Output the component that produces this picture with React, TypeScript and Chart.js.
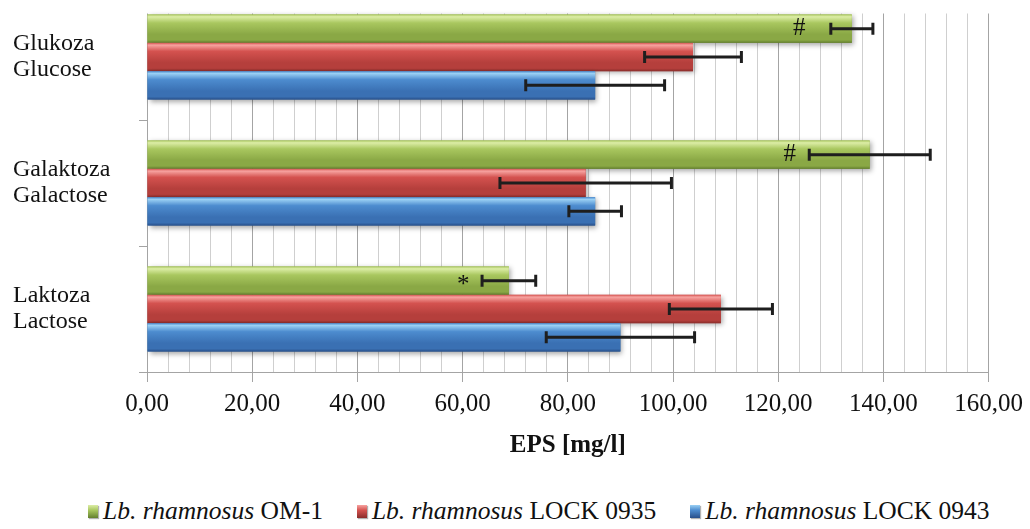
import React, { useEffect, useRef } from 'react';
import { Chart, registerables } from 'chart.js';

Chart.register(...registerables);

// ---- data ----
const categories = [
  ['Glukoza', 'Glucose'],
  ['Galaktoza', 'Galactose'],
  ['Laktoza', 'Lactose'],
];
const seriesSpecies = 'Lb. rhamnosus';
const seriesStrains = ['OM-1', 'LOCK 0935', 'LOCK 0943'];
const om1 = [134.0, 137.4, 68.8];
const lock0935 = [103.8, 83.4, 109.1];
const lock0943 = [85.2, 85.2, 90.0];
const om1Err = [4.0, 11.5, 5.1];
const lock0935Err = [9.2, 16.3, 9.8];
const lock0943Err = [13.2, 5.0, 14.1];
const om1Marks = ['#', '#', '*'];
const om1MarkAt = [124.0, 122.2, 60.1];
const xMin = 0;
const xMax = 160;
const xMajorStep = 20;
const xMinorStep = 4;
const axisTitle = 'EPS [mg/l]';

// ---- styles ----
const FONT = "'Liberation Serif'";
const palette = [
  { light: '#dceda6', mid: '#a9c75f', lower: '#8aa845', dark: '#637f2e' },
  { light: '#f7a3a0', mid: '#d4524f', lower: '#b53f3c', dark: '#8a2d2b' },
  { light: '#9ad0f4', mid: '#4d8ccf', lower: '#3a70b3', dark: '#284f8a' },
];
const OFFSET = 20;

const fmt = (v: number) => v.toFixed(2).replace('.', ',');

export default function App() {
  const ref = useRef<HTMLCanvasElement | null>(null);

  useEffect(() => {
    if (!ref.current) return;
    const series = [om1, lock0935, lock0943];
    const errors = [om1Err, lock0935Err, lock0943Err];

    const styler = {
      id: 'styler',
      beforeDatasetsDraw(chart: any) {
        const { ctx, chartArea } = chart;
        ctx.save();
        ctx.fillStyle = '#ffffff';
        ctx.fillRect(chartArea.left - 12, 0, chartArea.right - chartArea.left + 30, OFFSET + 14 - 0.5);
        ctx.restore();
      },
      afterDatasetsDraw(chart: any) {
        const ctx = chart.ctx;
        const xs = chart.scales.x;
        chart.data.datasets.forEach((ds: any, di: number) => {
          const meta = chart.getDatasetMeta(di);
          const c = palette[di];
          meta.data.forEach((el: any) => {
            const p = el.getProps(['x', 'y', 'base', 'height'], true);
            const left = Math.min(p.base, p.x);
            const right = Math.max(p.base, p.x);
            const top = p.y - p.height / 2;
            const h = p.height;
            const g = ctx.createLinearGradient(0, top, 0, top + h);
            g.addColorStop(0, c.mid);
            g.addColorStop(0.08, c.light);
            g.addColorStop(0.3, c.mid);
            g.addColorStop(0.7, c.lower);
            g.addColorStop(0.9, c.lower);
            g.addColorStop(1, c.dark);
            ctx.save();
            ctx.shadowColor = 'rgba(0,0,0,0.35)';
            ctx.shadowBlur = 5;
            ctx.shadowOffsetX = 2;
            ctx.shadowOffsetY = 2;
            ctx.fillStyle = g;
            ctx.fillRect(left, top, right - left, h);
            ctx.restore();
          });
        });
        ctx.save();
        ctx.strokeStyle = '#1e1e1e';
        ctx.lineWidth = 3;
        ctx.lineCap = 'butt';
        chart.data.datasets.forEach((ds: any, di: number) => {
          const meta = chart.getDatasetMeta(di);
          meta.data.forEach((el: any, i: number) => {
            const v = series[di][i];
            const e = errors[di][i];
            const lo = xs.getPixelForValue(v - e);
            const hi = xs.getPixelForValue(v + e);
            const y = el.y;
            ctx.beginPath();
            ctx.moveTo(lo, y);
            ctx.lineTo(hi, y);
            ctx.moveTo(lo, y - 6);
            ctx.lineTo(lo, y + 6);
            ctx.moveTo(hi, y - 6);
            ctx.lineTo(hi, y + 6);
            ctx.stroke();
          });
        });
        ctx.restore();
        const meta0 = chart.getDatasetMeta(0);
        ctx.save();
        ctx.fillStyle = '#111';
        ctx.font = `25px ${FONT}`;
        ctx.textAlign = 'center';
        ctx.textBaseline = 'middle';
        meta0.data.forEach((el: any, i: number) => {
          const m = om1Marks[i];
          if (!m) return;
          const x = xs.getPixelForValue(om1MarkAt[i]);
          ctx.fillText(m, x, el.y + (m === '*' ? 5 : 0));
        });
        ctx.restore();
      },
    };

    const chart = new Chart(ref.current, {
      type: 'bar',
      data: {
        labels: categories as any,
        datasets: series.map((d, i) => ({
          label: `${seriesSpecies} ${seriesStrains[i]}`,
          data: d,
          backgroundColor: palette[i].mid,
          borderWidth: 0,
          barPercentage: 1,
          categoryPercentage: 0.675,
        })),
      },
      options: {
        indexAxis: 'y',
        responsive: false,
        maintainAspectRatio: false,
        animation: false,
        font: { family: FONT },
        layout: { padding: { left: 13, right: 39, top: OFFSET - 6, bottom: 0 } },
        plugins: {
          legend: { display: false },
          tooltip: { enabled: false },
        },
        scales: {
          x: {
            type: 'linear',
            min: xMin,
            max: xMax,
            afterFit: (s: any) => {
              s.height = 108;
            },
            ticks: {
              stepSize: xMinorStep,
              autoSkip: false,
              maxRotation: 0,
              padding: 7,
              color: '#111',
              font: { family: FONT, size: 25 },
              callback: (v: any) => (Number(v) % xMajorStep === 0 ? fmt(Number(v)) : ''),
            },
            grid: {
              tickLength: 10,
              lineWidth: 1,
              color: (c: any) =>
                c.tick && c.tick.value % xMajorStep === 0 ? '#a4a4a4' : '#cfcfcf',
              tickColor: (c: any) =>
                c.tick && c.tick.value % xMajorStep === 0 ? '#a4a4a4' : 'rgba(0,0,0,0)',
            },
            border: { color: '#a4a4a4', width: 1 },
            title: {
              display: true,
              text: axisTitle,
              color: '#111',
              font: { family: FONT, size: 25, weight: 'bold' },
              padding: { top: 0, bottom: 19 },
            },
          },
          y: {
            type: 'category',
            afterFit: (s: any) => {
              s.width = 134;
              s.paddingTop = 0;
              s.paddingBottom = 0;
            },
            ticks: {
              crossAlign: 'far',
              color: '#111',
              font: { family: FONT, size: 24, lineHeight: 1.1 },
            },
            grid: {
              offset: true,
              drawOnChartArea: false,
              tickLength: 8,
              color: '#a4a4a4',
            },
            border: { color: '#a4a4a4', width: 1 },
          },
        },
      } as any,
      plugins: [styler],
    });

    return () => chart.destroy();
  }, []);

  const legendSwatch = (i: number) => ({
    display: 'inline-block',
    width: 10,
    height: 13,
    marginRight: 5,
    background: `linear-gradient(to bottom, ${palette[i].light}, ${palette[i].mid} 40%, ${palette[i].dark})`,
    boxShadow: '1px 1px 1px rgba(0,0,0,0.3)',
  });

  return (
    <div
      style={{
        position: 'absolute',
        top: 0,
        left: 0,
        width: 1030,
        height: 529,
        overflow: 'hidden',
        background: '#ffffff',
        fontFamily: FONT,
      }}
    >
      <canvas
        ref={ref}
        width={1030}
        height={500}
        style={{ position: 'absolute', top: -OFFSET, left: 0 }}
      />
      <div
        style={{
          position: 'absolute',
          top: 497,
          left: 88,
          display: 'flex',
          alignItems: 'center',
          gap: 34,
          fontFamily: FONT,
          fontSize: 25.5,
          color: '#111',
          whiteSpace: 'nowrap',
          lineHeight: '28px',
        }}
      >
        {seriesStrains.map((s, i) => (
          <div key={s} style={{ display: 'flex', alignItems: 'center' }}>
            <span style={legendSwatch(i)} />
            <span>
              <i>{seriesSpecies}</i> {s}
            </span>
          </div>
        ))}
      </div>
    </div>
  );
}
